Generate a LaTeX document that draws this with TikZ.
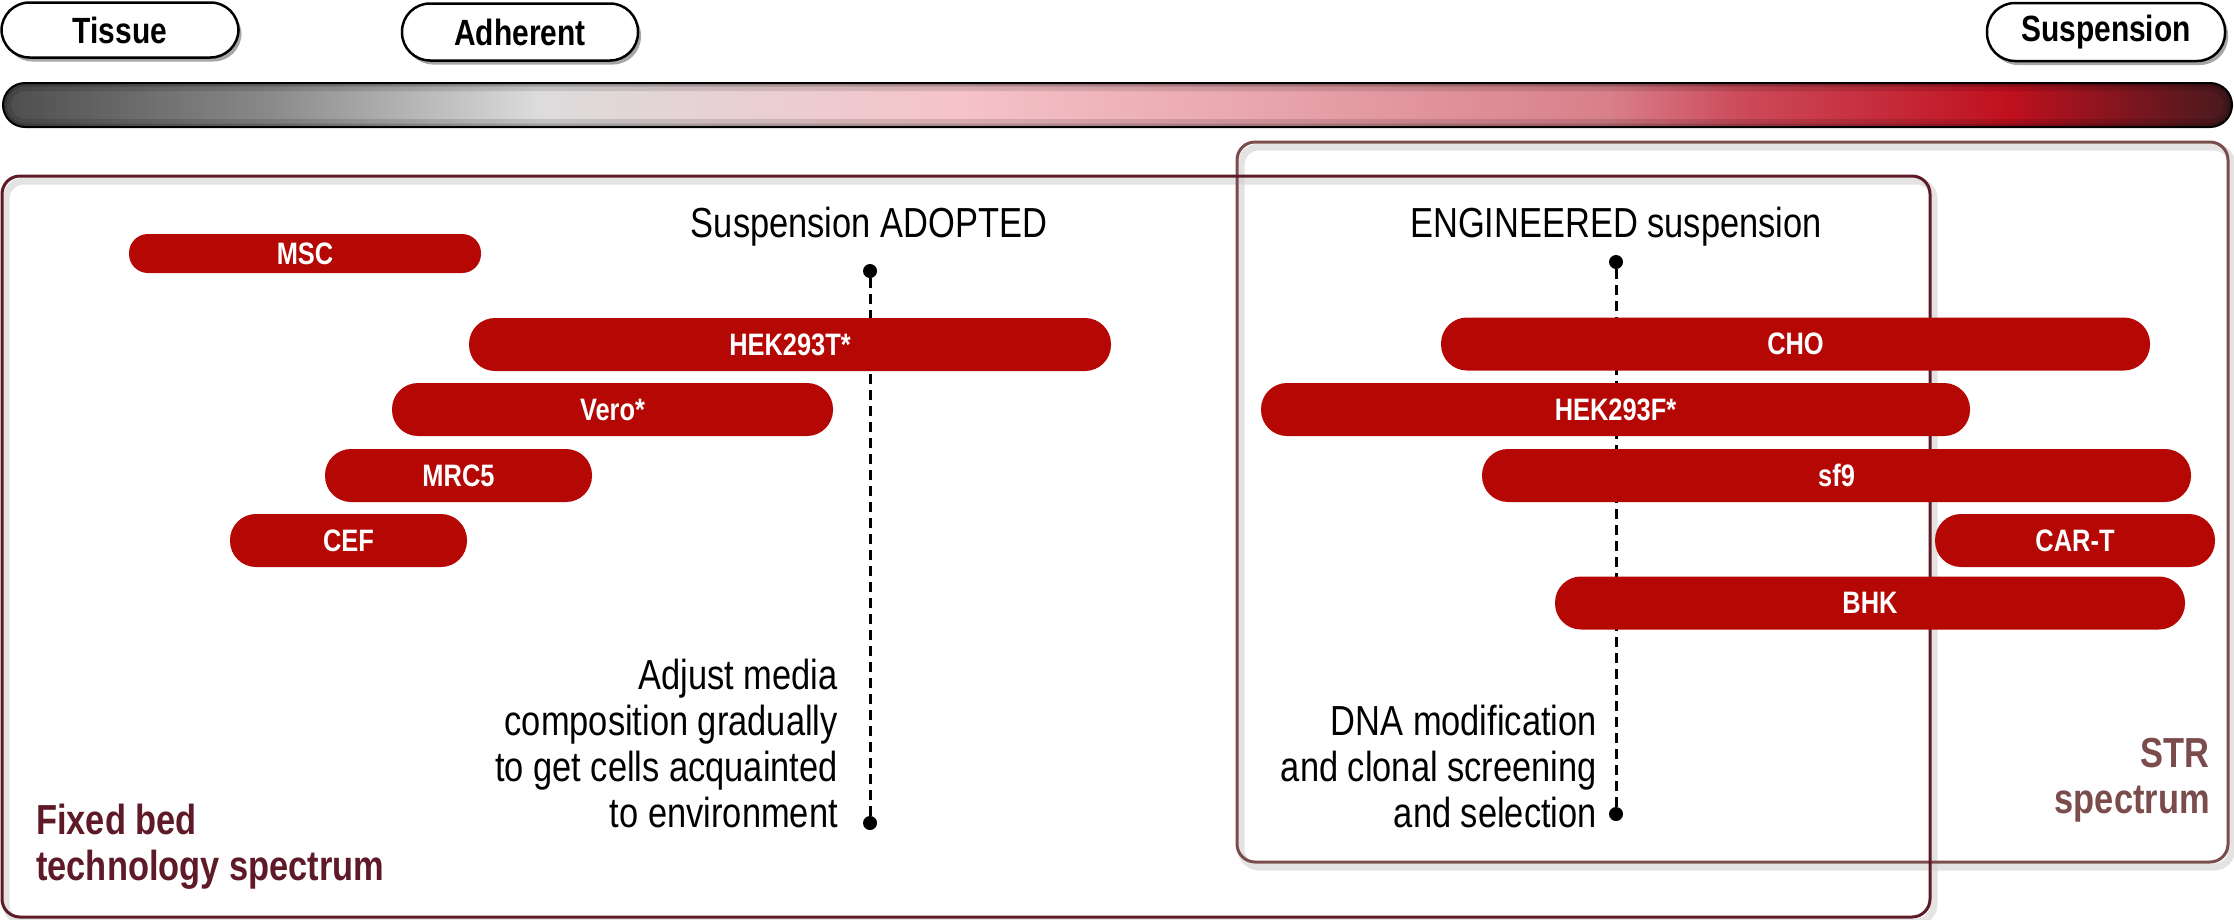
\documentclass[tikz,border=0pt]{standalone}
\usepackage{fontspec}
\setmainfont{Liberation Sans}[FakeStretch=0.82]
\usetikzlibrary{shadows}
\definecolor{barred}{RGB}{181,8,4}
\definecolor{fbcol}{RGB}{94,26,38}
\definecolor{strcol}{RGB}{122,76,76}
\definecolor{ga}{HTML}{4D4D4D}
\definecolor{gb}{HTML}{8A8A8A}
\definecolor{gc}{HTML}{DCDCDC}
\definecolor{gd}{HTML}{F5C3C8}
\definecolor{ge}{HTML}{EAA8B0}
\definecolor{gf}{HTML}{D8808A}
\definecolor{gg}{HTML}{CC4A5A}
\definecolor{gh}{HTML}{C0101E}
\definecolor{gi}{HTML}{451A1E}
\pgfdeclarehorizontalshading{bargrad}{100bp}{color(0bp)=(ga); color(25bp)=(ga); color(31bp)=(gb); color(37bp)=(gc); color(46.5bp)=(gd); color(52.5bp)=(ge); color(61bp)=(gf); color(64bp)=(gg); color(70bp)=(gh); color(75bp)=(gi); color(100bp)=(gi)}
\begin{document}
\begin{tikzpicture}[x=1pt,y=-1pt,
  pill/.style={draw=black, line width=2.5pt, fill=white, rounded corners=28pt,
    inner sep=0pt, font=\bfseries\fontsize{36.5}{40}\selectfont,
    drop shadow={shadow xshift=3pt, shadow yshift=-4pt, opacity=0.35, fill=black}},
  cellbar/.style={fill=barred, rounded corners=26pt, minimum height=53pt,
    inner sep=0pt, text=white, font=\bfseries\fontsize{31}{34}\selectfont},
  fixedbox/.style={draw=fbcol, line width=3pt, rounded corners=18pt, inner sep=0pt},
  strbox/.style={draw=strcol, line width=3pt, rounded corners=18pt, inner sep=0pt},
  boxshadow/.style={draw=black!18, line width=7pt, rounded corners=18pt, inner sep=0pt, opacity=0.6},
  dashline/.style={line width=3pt, dash pattern=on 10pt off 6pt},
  dot/.style={circle, fill=black, inner sep=0pt, minimum size=14pt},
  plain/.style={inner sep=0pt, font=\fontsize{42}{46}\selectfont},
  note/.style={inner sep=0pt, align=right, font=\fontsize{42}{46}\selectfont},
  spec/.style={inner sep=0pt, font=\bfseries\fontsize{42}{45.5}\selectfont}
]
\useasboundingbox (0,0) rectangle (2234,919);

% box shadows
\node[boxshadow, minimum width=991pt, minimum height=720pt] (strsh) at (1736.5,507) {};
\node[boxshadow, minimum width=1928pt, minimum height=741pt] (fixedsh) at (970,551.5) {};
% boxes
\node[strbox, minimum width=991pt, minimum height=720pt] (strb) at (1732.5,502) {};
\node[fixedbox, minimum width=1928pt, minimum height=741pt] (fixedb) at (966,546.5) {};

% dashed guides
\node[dot] (lt) at (870,271) {};
\node[dot] (lb) at (870,823) {};
\draw[dashline] (lt) -- (lb);
\node[dot] (rt) at (1616,262) {};
\node[dot] (rb) at (1616,814) {};
\draw[dashline] (rt) -- (rb);

% cell line bars
\node[cellbar, minimum width=352pt, minimum height=39pt, rounded corners=19pt] (msc) at (305,253.5) {MSC};
\node[cellbar, minimum width=642pt] (hekt) at (790,344.5) {HEK293T*};
\node[cellbar, minimum width=441pt] (vero) at (612.5,409.5) {Vero*};
\node[cellbar, minimum width=267pt] (mrc) at (458.5,475.5) {MRC5};
\node[cellbar, minimum width=237pt] (cef) at (348.5,540.5) {CEF};
\node[cellbar, minimum width=709pt] (cho) at (1795.5,344) {CHO};
\node[cellbar, minimum width=709pt] (hekf) at (1615.5,409.5) {HEK293F*};
\node[cellbar, minimum width=709pt] (sf) at (1836.5,475.5) {sf9};
\node[cellbar, minimum width=280pt] (cart) at (2075,540.5) {CAR-T};
\node[cellbar, minimum width=630pt] (bhk) at (1870,603) {BHK};

% texts
\node[plain, anchor=base] (adopt) at (869,237) {Suspension ADOPTED};
\node[plain, anchor=base] (engin) at (1616,237) {ENGINEERED suspension};
\node[note, anchor=north east] (adjust) at (838,659) {Adjust media\\composition gradually\\to get cells acquainted\\to environment};
\node[note, anchor=north east] (dna) at (1597,705) {DNA modification\\and clonal screening\\and selection};
\node[spec, text=fbcol, align=left, anchor=north west] (fbl) at (36,804) {Fixed bed\\technology spectrum};
\node[spec, text=strcol, align=right, anchor=north east] (strl) at (2210,738) {STR\\spectrum};

% gradient bar
\node[draw=black, line width=2pt, rounded corners=22pt, minimum width=2229pt, minimum height=44pt,
  inner sep=0pt, shading=bargrad,
  path picture={
    \draw[black, opacity=0.12, line width=16pt] (path picture bounding box.north west) rectangle (path picture bounding box.south east);
    \draw[black, opacity=0.18, line width=7pt] (path picture bounding box.north west) rectangle (path picture bounding box.south east);
  }] (grad) at (1117.5,105) {};

% top pills
\node[pill, minimum width=237pt, minimum height=55pt] (tissue) at (120,30) {Tissue};
\node[pill, minimum width=236pt, minimum height=57pt] (adher) at (520,32) {Adherent};
\node[pill, minimum width=238pt, minimum height=58pt] (susp) at (2106,32) {Suspension};
\end{tikzpicture}
\end{document}
